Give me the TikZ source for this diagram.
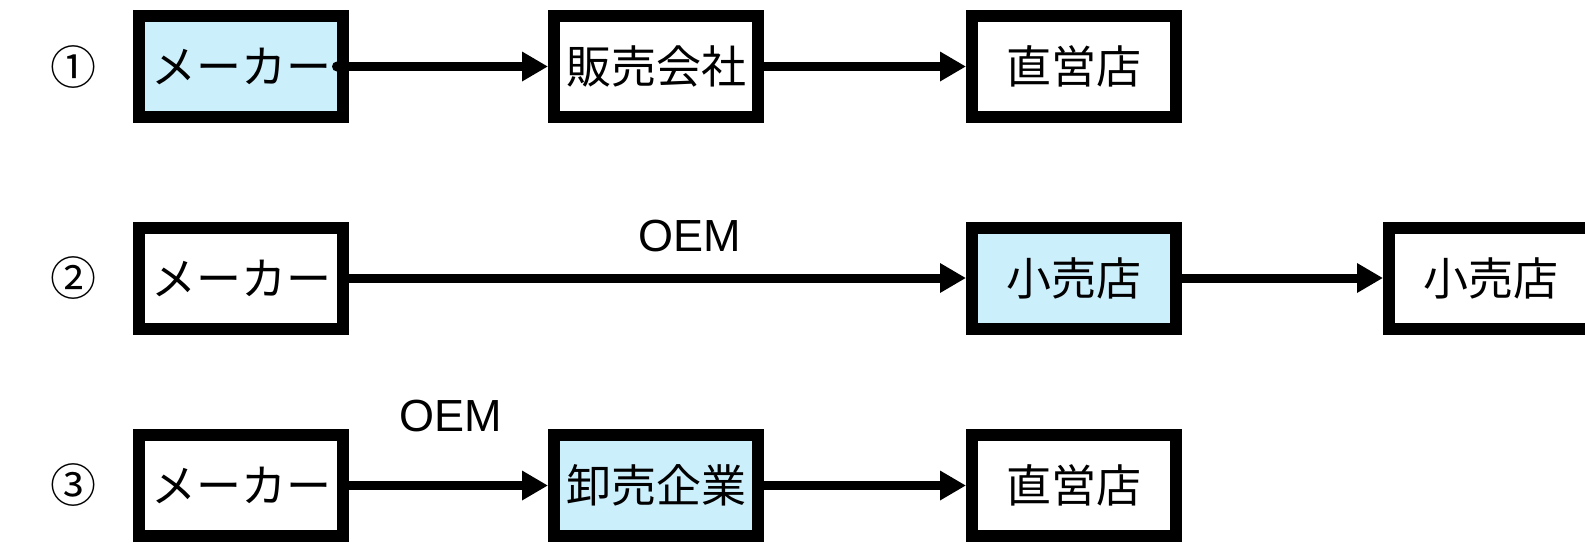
\documentclass[tikz,border=0pt]{standalone}
\usepackage{fontspec}
\setmainfont{Liberation Sans}
\newfontfamily\jp{Noto Sans CJK JP}
\usetikzlibrary{arrows.meta}
\begin{document}
\begin{tikzpicture}[x=1pt,y=-1pt,
  box/.style={draw=black, line width=12pt, fill=white, minimum width=204pt, minimum height=101pt, inner sep=0pt, font=\jp\fontsize{45}{50}\selectfont, text=black},
  hl/.style={box, fill=cyan!20},
  flow/.style={line width=9pt, -{Triangle[length=26pt,width=28pt]}},
  num/.style={font=\jp\fontsize{46}{50}\selectfont, inner sep=0pt},
  lbl/.style={font=\fontsize{45}{50}\selectfont, inner sep=0pt}
]
\useasboundingbox (0,0) rectangle (1585,542);
\fill[white] (0,0) rectangle (1585,542);

% row 1
\node[num] (n1) at (73,67) {①};
\node[hl]  (a1) at (241,66.5) {メーカー};
\node[box] (b1) at (656,66.5) {販売会社};
\node[box] (c1) at (1074,66.5) {直営店};
\fill ([xshift=-12pt]a1.east) circle (5pt);
\draw[flow] (a1) -- (b1);
\draw[flow] (b1) -- (c1);

% row 2
\node[num] (n2) at (73,278) {②};
\node[box] (a2) at (241,278) {メーカー};
\node[hl]  (c2) at (1074,278) {小売店};
\node[box] (d2) at (1491,278) {小売店};
\node[lbl] (o2) at (690,236) {OEM};
\draw[flow] (a2) -- (c2);
\draw[flow] (c2) -- (d2);

% row 3
\node[num] (n3) at (73,485.5) {③};
\node[box] (a3) at (241,485.5) {メーカー};
\node[hl]  (b3) at (656,485.5) {卸売企業};
\node[box] (c3) at (1074,485.5) {直営店};
\node[lbl] (o3) at (451,416) {OEM};
\draw[flow] (a3) -- (b3);
\draw[flow] (b3) -- (c3);
\end{tikzpicture}
\end{document}
